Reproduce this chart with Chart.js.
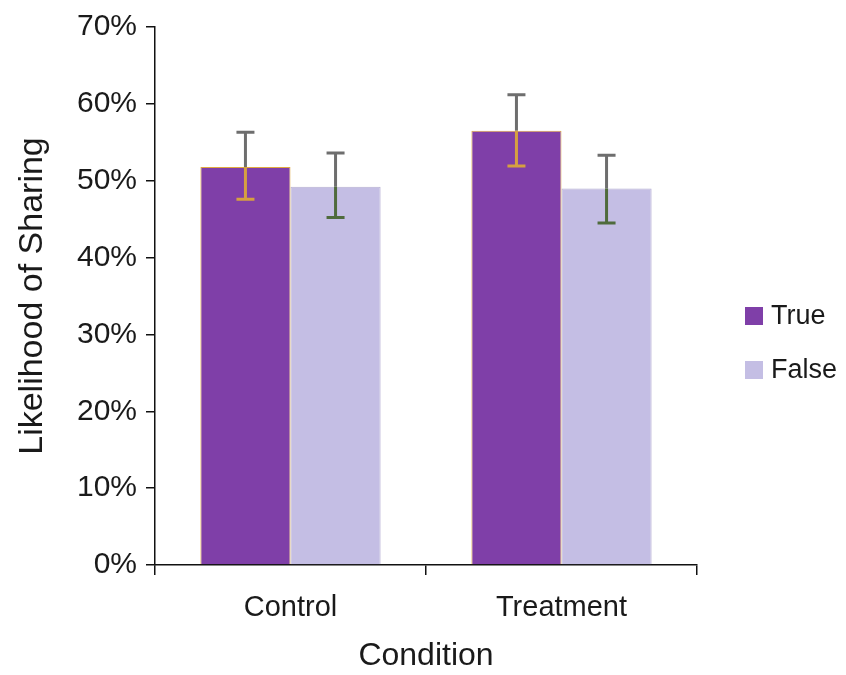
<!DOCTYPE html>
<html><head><meta charset="utf-8">
<script src="https://cdn.jsdelivr.net/npm/chart.js@4.4.0/dist/chart.umd.min.js"></script>
<style>html,body{margin:0;padding:0;background:#fff}#wrap{width:846px;height:675px;position:relative}</style>
</head><body><div id="wrap"><canvas id="c" width="846" height="675"></canvas></div>
<script>
const categories = ["Control", "Treatment"];
const seriesNames = ["True", "False"];
const trueValues = [51.8, 56.5];
const falseValues = [49.2, 49.0];
const trueErrHigh = [56.3, 61.2];
const trueErrLow = [47.6, 51.9];
const falseErrHigh = [53.6, 53.3];
const falseErrLow = [45.2, 44.5];
const yTicks = [0, 10, 20, 30, 40, 50, 60, 70];

const FONT = "'Liberation Sans', Arial, sans-serif";

const errorBars = {
  id: 'errorBars',
  afterDatasetsDraw(chart) {
    const ctx = chart.ctx, ys = chart.scales.y;
    const errs = [[trueErrHigh, trueErrLow, '#d6a040'], [falseErrHigh, falseErrLow, '#4f6b3c']];
    chart.data.datasets.forEach((ds, i) => {
      const meta = chart.getDatasetMeta(i);
      meta.data.forEach((bar, j) => {
        const x = bar.x;
        const yTop = ys.getPixelForValue(errs[i][0][j]);
        const yLow = ys.getPixelForValue(errs[i][1][j]);
        const yBar = ys.getPixelForValue(ds.data[j]);
        const cap = 9;
        ctx.save();
        ctx.lineWidth = 3;
        ctx.strokeStyle = '#6e6e6e';
        ctx.beginPath();
        ctx.moveTo(x, yBar); ctx.lineTo(x, yTop);
        ctx.moveTo(x - cap, yTop); ctx.lineTo(x + cap, yTop);
        ctx.stroke();
        ctx.strokeStyle = errs[i][2];
        ctx.beginPath();
        ctx.moveTo(x, yBar); ctx.lineTo(x, yLow);
        ctx.moveTo(x - cap, yLow); ctx.lineTo(x + cap, yLow);
        ctx.stroke();
        ctx.restore();
      });
    });
  }
};

const sideLegend = {
  id: 'sideLegend',
  afterDraw(chart) {
    const ctx = chart.ctx;
    const rows = [316, 370];
    ctx.save();
    ctx.font = "27px " + FONT;
    ctx.textBaseline = 'middle';
    ctx.textAlign = 'left';
    chart.data.datasets.forEach((ds, i) => {
      ctx.fillStyle = ds.backgroundColor;
      ctx.fillRect(745, rows[i] - 9, 18, 18);
      ctx.fillStyle = '#1a1a1a';
      ctx.fillText(ds.label, 771, rows[i] + 1);
    });
    ctx.restore();
  }
};

new Chart(document.getElementById('c'), {
  type: 'bar',
  data: {
    labels: categories,
    datasets: [
      { label: seriesNames[0], data: trueValues, backgroundColor: '#7f3fa8', borderColor: '#e0a840', borderWidth: 1 },
      { label: seriesNames[1], data: falseValues, backgroundColor: '#c4bee4', borderColor: '#b5aed2', borderWidth: 1 }
    ]
  },
  options: {
    responsive: false,
    animation: false,
    layout: { padding: { left: 0, top: 27, right: 149, bottom: 0 } },
    datasets: { bar: { categoryPercentage: 0.665, barPercentage: 1.0 } },
    plugins: { legend: { display: false }, tooltip: { enabled: false } },
    scales: {
      x: {
        afterFit(s) { s.height = 110; },
        grid: { offset: true, drawOnChartArea: false, tickLength: 10, color: '#111', lineWidth: 1.5 },
        border: { display: true, color: '#111', width: 1.5 },
        ticks: { color: '#1a1a1a', font: { family: FONT, size: 29 }, padding: 16 },
        title: { display: true, text: 'Condition', color: '#1a1a1a', font: { family: FONT, size: 32 }, padding: { top: 0, bottom: 0 } }
      },
      y: {
        min: 0, max: 70,
        afterFit(s) { s.width = 155; },
        afterBuildTicks(s) { s.ticks = yTicks.map(v => ({ value: v })); },
        grid: { drawOnChartArea: false, tickLength: 9, color: '#111', lineWidth: 1.5 },
        border: { display: true, color: '#111', width: 1.5 },
        ticks: { color: '#1a1a1a', font: { family: FONT, size: 30 }, padding: 9, callback: v => v + '%' },
        title: { display: true, text: 'Likelihood of Sharing', color: '#1a1a1a', font: { family: FONT, size: 34 }, padding: { top: 12, bottom: 0 } }
      }
    }
  },
  plugins: [errorBars, sideLegend]
});
</script></body></html>
